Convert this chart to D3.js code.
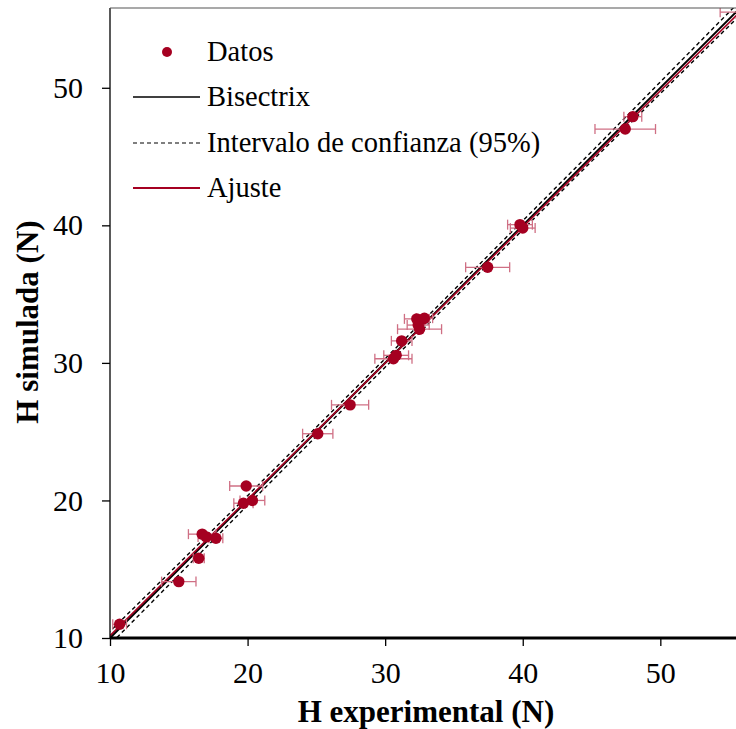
<!DOCTYPE html>
<html><head><meta charset="utf-8">
<script src="https://cdn.jsdelivr.net/npm/d3@7"></script>
<style>body{margin:0;background:#fff}svg{display:block}text{font-family:"Liberation Serif","Times New Roman",serif}</style>
</head><body><svg id="c" width="736" height="729"></svg>
<script>
const hExp   = [10.7, 15.0, 16.45, 16.7, 17.0, 17.7, 19.7, 19.9, 20.35, 25.1, 27.45, 30.6, 30.8, 31.2, 32.4, 32.5, 32.3, 32.85, 37.45, 39.8, 40.0, 47.45, 48.0, 56.0];
const hSim   = [11.0, 14.1, 15.8, 17.55, 17.35, 17.25, 19.8, 21.05, 20.0, 24.85, 26.95, 30.3, 30.55, 31.6, 32.75, 32.45, 33.2, 33.25, 36.95, 40.05, 39.8, 47.0, 47.9, 55.5];
const hErr   = [0.5, 1.25, 0.4, 1.0, 0.6, 0.5, 0.7, 1.2, 0.9, 1.1, 1.35, 1.35, 0.9, 0.75, 0.8, 1.6, 0.9, 0.6, 1.6, 0.9, 0.9, 2.2, 0.65, 1.65];
const xTicks = [10, 20, 30, 40, 50];
const yTicks = [10, 20, 30, 40, 50];
const lineX  = [8, 58];
const ajusteY = [8.2, 57.7];
const ciX     = [8, 20, 33, 45, 58];
const ciLower = [7.5, 19.65, 32.7, 44.65, 57.45];
const ciUpper = [8.5, 20.35, 33.3, 45.35, 58.55];
const legendLabels = ["Datos", "Bisectrix", "Intervalo de confianza (95%)", "Ajuste"];

const red = "#a50021", errCol = "#cf6f84";
const svg = d3.select("#c");
const x = d3.scaleLinear().domain([10, 55.5]).range([110, 736]);
const y = d3.scaleLinear().domain([10, 55.8]).range([638, 8]);

svg.append("clipPath").attr("id","clip").append("rect")
  .attr("x",110).attr("y",8).attr("width",626).attr("height",630);
const g = svg.append("g").attr("clip-path","url(#clip)");

const ciLine = d3.line().x((d,i)=>x(ciX[i])).y(d=>y(d));
[ciLower, ciUpper].forEach(arr=>{
  g.append("path").attr("d", ciLine(arr)).attr("fill","none")
   .attr("stroke","#000").attr("stroke-width",1.4).attr("stroke-dasharray","4,3");
});
g.append("path").attr("d", d3.line().x(d=>x(d)).y(d=>y(d))(lineX))
 .attr("stroke","#000").attr("stroke-width",2).attr("fill","none");
g.append("path").attr("d", d3.line().x((d,i)=>x(d)).y((d,i)=>y(ajusteY[i]))(lineX))
 .attr("stroke",red).attr("stroke-width",1.6).attr("fill","none");

const eb = g.append("g").attr("stroke",errCol).attr("stroke-width",1.3);
hExp.forEach((v,i)=>{
  const yy = y(hSim[i]);
  eb.append("line").attr("x1",x(v-hErr[i])).attr("x2",x(v+hErr[i])).attr("y1",yy).attr("y2",yy);
  [v-hErr[i], v+hErr[i]].forEach(e=>eb.append("line").attr("x1",x(e)).attr("x2",x(e)).attr("y1",yy-5).attr("y2",yy+5));
});
g.selectAll("circle.pt").data(hExp).enter().append("circle").attr("class","pt")
 .attr("cx",d=>x(d)).attr("cy",(d,i)=>y(hSim[i])).attr("r",5.7).attr("fill",red);

const xa = svg.append("g").attr("transform","translate(0,638)")
  .call(d3.axisBottom(x).tickValues(xTicks).tickSize(8).tickPadding(16).tickFormat(d3.format("d")));
const ya = svg.append("g").attr("transform","translate(110,0)")
  .call(d3.axisLeft(y).tickValues(yTicks).tickSize(8).tickPadding(19).tickFormat(d3.format("d")));
[xa, ya].forEach(a=>{
  a.selectAll("text").attr("font-size",30).attr("fill","#000").attr("font-family","Liberation Serif, serif");
  a.selectAll("line").attr("stroke","#000").attr("stroke-width",1.3);
});
xa.select(".domain").attr("stroke","#000").attr("stroke-width",2.8).attr("d","M110,0H736");
ya.select(".domain").attr("stroke","#000").attr("stroke-width",1.3).attr("d","M0,8V638");
svg.append("line").attr("x1",110).attr("x2",736).attr("y1",8).attr("y2",8).attr("stroke","#555").attr("stroke-width",1.2);

svg.append("text").attr("x",426).attr("y",722).attr("text-anchor","middle")
  .attr("font-size",31).attr("font-weight","bold").text("H experimental (N)");
svg.append("text").attr("transform","translate(38,322) rotate(-90)").attr("text-anchor","middle")
  .attr("font-size",31).attr("font-weight","bold").text("H simulada (N)");

const lg = svg.append("g");
const lyText = [61, 106, 152, 197];
const lyMark = [52, 97, 143, 188];
legendLabels.forEach((t,i)=>{
  lg.append("text").attr("x",207).attr("y",lyText[i]).attr("font-size",28.5).text(t);
});
lg.append("circle").attr("cx",167).attr("cy",lyMark[0]).attr("r",5).attr("fill",red);
lg.append("line").attr("x1",133).attr("x2",200).attr("y1",lyMark[1]).attr("y2",lyMark[1]).attr("stroke","#000").attr("stroke-width",1.3);
lg.append("line").attr("x1",133).attr("x2",200).attr("y1",lyMark[2]).attr("y2",lyMark[2]).attr("stroke","#000").attr("stroke-width",1.2).attr("stroke-dasharray","4,3");
lg.append("line").attr("x1",133).attr("x2",200).attr("y1",lyMark[3]).attr("y2",lyMark[3]).attr("stroke",red).attr("stroke-width",2);
</script></body></html>
